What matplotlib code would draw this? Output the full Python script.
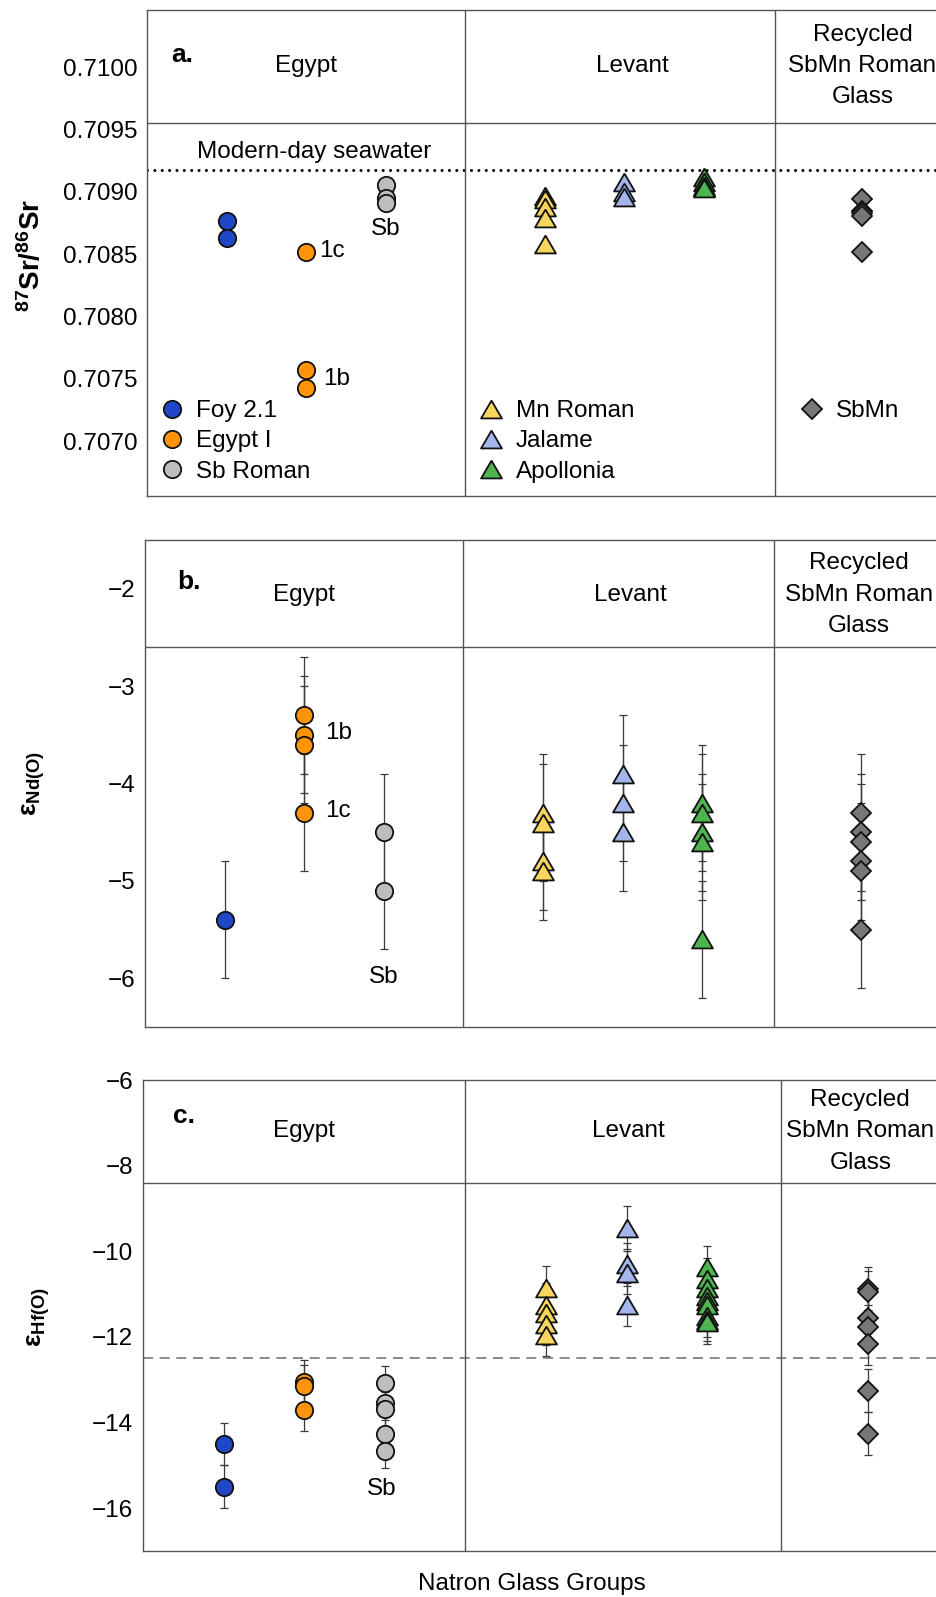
import matplotlib.pyplot as plt
from matplotlib.markers import MarkerStyle
import numpy as np

plt.rcParams['font.family'] = ['Liberation Sans', 'DejaVu Sans']
plt.rcParams['mathtext.fontset'] = 'custom'
plt.rcParams['mathtext.rm'] = 'Liberation Sans'
plt.rcParams['mathtext.bf'] = 'Liberation Sans:bold'
plt.rcParams['mathtext.it'] = 'Liberation Sans:italic'
plt.rcParams['font.size'] = 17.5

# groups and where they sit on the x axis
groups = ['Foy 2.1', 'Egypt I', 'Sb Roman', 'Mn Roman', 'Jalame', 'Apollonia', 'SbMn']
group_x = [1, 2, 3, 5, 6, 7, 9]

# a. 87Sr/86Sr
sr_foy = [0.70877, 0.70863]
sr_egypt1 = [0.70852, 0.707575, 0.707425]
sr_sb = [0.70906, 0.70895, 0.70891]
sr_mn = [0.70897, 0.70894, 0.70888, 0.70879, 0.70858]
sr_jalame = [0.70908, 0.70900, 0.70896]
sr_apollonia = [0.70912, 0.70908, 0.70905, 0.70904, 0.70903]
sr_sbmn = [0.70894, 0.70885, 0.70883, 0.70881, 0.70852]
seawater_sr = 0.70918

# b. eps Nd
nd_foy = [-5.4]
nd_egypt1 = [-3.3, -3.5, -3.6, -4.3]
nd_sb = [-4.5, -5.1]
nd_mn = [-4.3, -4.4, -4.8, -4.9]
nd_jalame = [-3.9, -4.2, -4.5]
nd_apollonia = [-4.2, -4.3, -4.5, -4.6, -5.6]
nd_sbmn = [-4.3, -4.5, -4.6, -4.8, -4.9, -5.5]
nd_err_foy = [0.6]
nd_err_egypt1 = [0.6, 0.6, 0.6, 0.6]
nd_err_sb = [0.6, 0.6]
nd_err_mn = [0.6, 0.6, 0.5, 0.5]
nd_err_jalame = [0.6, 0.6, 0.6]
nd_err_apollonia = [0.6, 0.6, 0.6, 0.6, 0.6]
nd_err_sbmn = [0.6, 0.6, 0.6, 0.6, 0.6, 0.6]

# c. eps Hf
hf_foy = [-14.5, -15.5]
hf_egypt1 = [-13.05, -13.15, -13.7]
hf_sb = [-13.07, -13.55, -13.68, -14.27, -14.67]
hf_mn = [-10.85, -11.25, -11.45, -11.7, -11.95]
hf_jalame = [-9.45, -10.3, -10.5, -11.25]
hf_apollonia = [-10.37, -10.65, -10.85, -11.05, -11.15, -11.25, -11.5, -11.6, -11.66]
hf_sbmn = [-10.87, -10.95, -11.56, -11.76, -12.16, -13.26, -14.26]
hf_err_foy = [0.5, 0.5]
hf_err_egypt1 = [0.5, 0.5, 0.5]
hf_err_sb = [0.4, 0.4, 0.4, 0.4, 0.4]
hf_err_mn = [0.5, 0.5, 0.5, 0.5, 0.5]
hf_err_jalame = [0.5, 0.5, 0.5, 0.5]
hf_err_apollonia = [0.5] * 9
hf_err_sbmn = [0.5] * 7
hf_ref_line = -12.5

tri = MarkerStyle([(0, 0.857), (-1, -0.857), (1, -0.857), (0, 0.857)], joinstyle='miter')
circ = dict(marker='o', ms=12.5, mew=1.3, mec='#111111')
trist = dict(marker=tri, ms=15, mew=1.3, mec='#111111')
diam = dict(marker='D', ms=10, mew=1.3, mec='#111111')
styles = [
    dict(circ, mfc='#2147C9'),
    dict(circ, mfc='#FF9408'),
    dict(circ, mfc='#BDBDBD'),
    dict(trist, mfc='#F8D65E'),
    dict(trist, mfc='#A3B5EA'),
    dict(trist, mfc='#4DB44E'),
    dict(diam, mfc='#777777'),
]

EDGE = '#555555'


def draw_group(ax, xpos, vals, errs, style, label):
    x = np.full(len(vals), xpos, dtype=float)
    if errs is not None:
        ax.errorbar(x, vals, yerr=errs, fmt='none', ecolor='#3a3a3a',
                    elinewidth=0.9, capsize=3, capthick=0.9, zorder=2)
    line, = ax.plot(x, vals, linestyle='none', label=label, zorder=3, **style)
    return line


def setup_panel(ax, ylim, header_y, div2):
    ax.set_xlim(0, 10.2)
    ax.set_ylim(*ylim)
    ax.set_xticks([])
    ax.tick_params(axis='y', length=0, pad=7, labelsize=17.5)
    for s in ax.spines.values():
        s.set_color(EDGE)
        s.set_linewidth(1.0)
    ax.axhline(header_y, color=EDGE, lw=1.0)
    ax.axvline(4, color=EDGE, lw=1.0)
    ax.axvline(div2, color=EDGE, lw=1.0)


def headers(ax, letter, letter_x, letter_y, head_y, levant_x, rec_x):
    ax.text(letter_x, letter_y, letter, fontsize=19, fontweight='bold', ha='left', va='center')
    ax.text(2, head_y, 'Egypt', ha='center', va='center')
    ax.text(levant_x, head_y, 'Levant', ha='center', va='center')
    ax.text(rec_x, head_y, 'Recycled\nSbMn Roman\nGlass', ha='center', va='center', linespacing=1.55)


fig = plt.figure(figsize=(9.37, 15.97), dpi=100)

# ---- panel a
ax_a = fig.add_axes([0.1569, 0.6894, 0.8654, 0.3043])
setup_panel(ax_a, (0.70656, 0.71046), 0.70955, 7.9)
headers(ax_a, 'a.', 0.3, 0.71010, 0.71001, 6.1, 9.0)
sr_vals = [sr_foy, sr_egypt1, sr_sb, sr_mn, sr_jalame, sr_apollonia, sr_sbmn]
handles = []
for xp, v, st, lab in zip(group_x, sr_vals, styles, groups):
    handles.append(draw_group(ax_a, xp, v, None, st, lab))
ax_a.axhline(seawater_sr, color='black', lw=2.2, linestyle=(0, (0.01, 2.4)),
             dash_capstyle='round', zorder=1)
ax_a.text(2.1, 0.70932, 'Modern-day seawater', ha='center', va='center')
ax_a.set_yticks([0.7070, 0.7075, 0.7080, 0.7085, 0.7090, 0.7095, 0.7100])
ax_a.set_yticklabels(['%.4f' % t for t in ax_a.get_yticks()])
ax_a.text(3, 0.70870, 'Sb', ha='center', va='center')
ax_a.text(2.17, 0.70853, '1c', ha='left', va='center')
ax_a.text(2.21, 0.70750, '1b', ha='left', va='center')

leg_kw = dict(frameon=False, numpoints=1, handlelength=1.0, handletextpad=0.5,
              labelspacing=0.34, borderpad=0, borderaxespad=0, fontsize=17.5,
              loc='upper left', bbox_transform=ax_a.transData)
leg1 = ax_a.legend(handles=handles[0:3], bbox_to_anchor=(0.16, 0.70733), **leg_kw)
ax_a.add_artist(leg1)
leg2 = ax_a.legend(handles=handles[3:6], bbox_to_anchor=(4.18, 0.70733), **leg_kw)
ax_a.add_artist(leg2)
ax_a.legend(handles=handles[6:7], bbox_to_anchor=(8.21, 0.70733), **leg_kw)
fig.text(32 / 937, 1 - 255 / 1597, r'$^{\mathbf{87}}\mathbf{Sr/}^{\mathbf{86}}\mathbf{Sr}$',
         rotation=90, ha='center', va='center', fontsize=20)

# ---- panel b
ax_b = fig.add_axes([0.1547, 0.3569, 0.8665, 0.3049])
setup_panel(ax_b, (-6.5, -1.5), -2.6, 7.9)
headers(ax_b, 'b.', 0.4, -1.93, -2.06, 6.1, 8.97)
nd_vals = [nd_foy, nd_egypt1, nd_sb, nd_mn, nd_jalame, nd_apollonia, nd_sbmn]
nd_errs = [nd_err_foy, nd_err_egypt1, nd_err_sb, nd_err_mn, nd_err_jalame,
           nd_err_apollonia, nd_err_sbmn]
for xp, v, e, st, lab in zip(group_x, nd_vals, nd_errs, styles, groups):
    draw_group(ax_b, xp, v, e, st, lab)
ax_b.set_yticks([-6, -5, -4, -3, -2])
ax_b.text(2.26, -3.48, '1b', ha='left', va='center')
ax_b.text(2.26, -4.28, '1c', ha='left', va='center')
ax_b.text(3, -5.99, 'Sb', ha='center', va='center')
fig.text(34 / 937, 1 - 783 / 1597, r'$\mathbf{ε_{Nd(O)}}$',
         rotation=90, ha='center', va='center', fontsize=19)

# ---- panel c
ax_c = fig.add_axes([0.1526, 0.0288, 0.8774, 0.2949])
setup_panel(ax_c, (-17, -6), -8.4, 7.91)
headers(ax_c, 'c.', 0.37, -6.85, -7.2, 6.02, 8.9)
hf_vals = [hf_foy, hf_egypt1, hf_sb, hf_mn, hf_jalame, hf_apollonia, hf_sbmn]
hf_errs = [hf_err_foy, hf_err_egypt1, hf_err_sb, hf_err_mn, hf_err_jalame,
           hf_err_apollonia, hf_err_sbmn]
for xp, v, e, st, lab in zip(group_x, hf_vals, hf_errs, styles, groups):
    draw_group(ax_c, xp, v, e, st, lab)
ax_c.axhline(hf_ref_line, color='#777777', lw=1.2, linestyle=(0, (6, 4)), zorder=1)
ax_c.set_yticks([-16, -14, -12, -10, -8, -6])
ax_c.text(2.96, -15.56, 'Sb', ha='center', va='center')
fig.text(39 / 937, 1 - 1317 / 1597, r'$\mathbf{ε_{Hf(O)}}$',
         rotation=90, ha='center', va='center', fontsize=19)

fig.text(532 / 937, 1 - 1584 / 1597, 'Natron Glass Groups', ha='center', va='center', fontsize=17.5)

fig.savefig('out.png', dpi=100)
